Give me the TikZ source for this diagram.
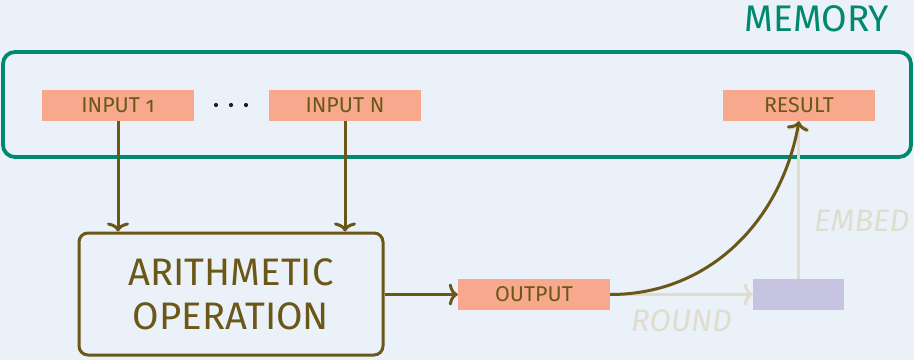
\documentclass[tikz,border=0pt]{standalone}
\usepackage{fontspec}
\setmainfont{Fira Sans}[Numbers=OldStyle]
\usetikzlibrary{arrows.meta, positioning}

\definecolor{bgblue}{RGB}{234,241,249}
\definecolor{memteal}{RGB}{0,137,111}
\definecolor{opolive}{RGB}{107,87,24}
\definecolor{cellsalmon}{RGB}{248,169,141}
\definecolor{celllilac}{RGB}{198,196,224}
\definecolor{fadegrey}{RGB}{223,221,206}

\begin{document}
\begin{tikzpicture}[
      x=1pt, y=-1pt,
      cell/.style={fill=cellsalmon, minimum width=152pt, minimum height=31pt,
                   inner sep=0pt, text=opolive, font=\fontsize{21.4}{25}\selectfont},
      slot/.style={fill=celllilac, minimum width=91pt, minimum height=31pt,
                   inner sep=0pt},
      opbox/.style={draw=opolive, line width=3pt, rounded corners=9pt,
                    minimum width=304pt, minimum height=122pt, align=center,
                    text=opolive, font=\fontsize{38.3}{44}\selectfont},
      flow/.style={draw=opolive, line width=3pt, -{To[length=9pt,width=22pt]}},
      faded/.style={draw=fadegrey, line width=3pt, -{To[length=9pt,width=22pt]}},
      fadelabel/.style={text=fadegrey, font=\fontsize{31}{36}\selectfont\itshape}
    ]
    % Hintergrund und Rahmen
    \fill[bgblue] (0,0) rectangle (914,360);
    \useasboundingbox (0,0) rectangle (914,360);

    % Speicher
    \draw[memteal, line width=3.8pt, rounded corners=12pt] (3,52) rectangle (911,157);
    \node[anchor=base east, text=memteal, inner sep=0pt,
          font=\fontsize{37}{42}\selectfont] (memlabel) at (889,31) {MEMORY};

    % Zellen im Speicher
    \node[cell] (in1) at (118,105.5) {INPUT 1};
    \node[cell] (inN) at (345,105.5) {INPUT N};
    \node[cell] (result) at (799,105.5) {RESULT};
    \foreach \x [count=\i] in {216,231,246}
      \fill[black!88] (\x,105) circle (2.1pt) coordinate (dot\i);

    % Rechenwerk
    \node[opbox] (arith) at (231,294) {ARITHMETIC\\OPERATION};
    \node[cell] (output) at (534,294.5) {OUTPUT};
    \node[slot] (slot) at (798.5,294.5) {};

    % Blasse Pfade
    \draw[faded] (output.east) -- (slot.west);
    \draw[faded] (slot.north) -- (slot.north |- result.south);
    \node[fadelabel, anchor=base west, inner sep=0pt] (roundlabel) at (631,331) {ROUND};
    \node[fadelabel, anchor=base west, inner sep=0pt] (embedlabel) at (814,231) {EMBED};

    % Verbindungen
    \draw[flow] (in1.south) -- (in1.south |- arith.north);
    \draw[flow] (inN.south) -- (inN.south |- arith.north);
    \draw[flow] (arith.east |- output.west) -- (output.west);
    \draw[flow] (output.east) to[out=0, in=-100] (result.south);
  \end{tikzpicture}
\end{document}
